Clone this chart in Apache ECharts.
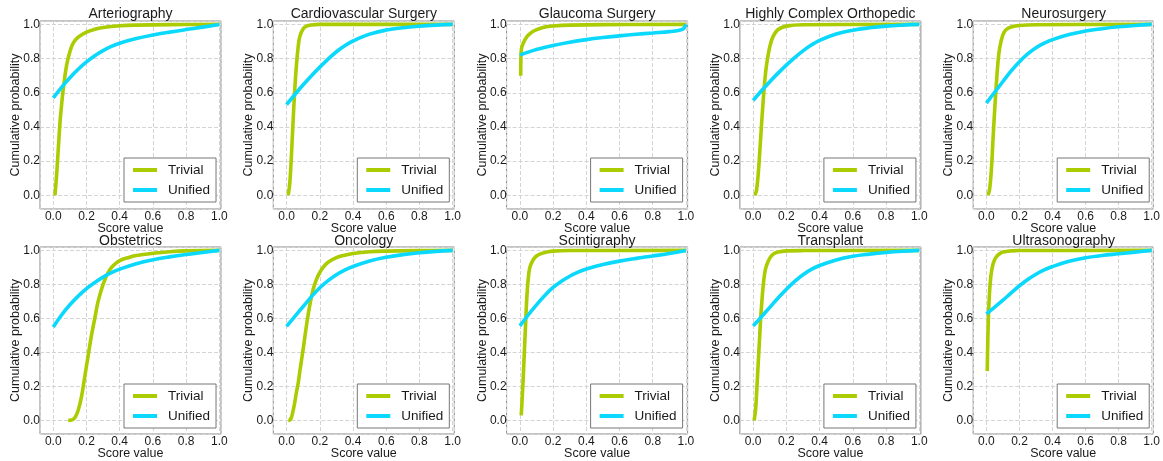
<!DOCTYPE html>
<html>
<head>
<meta charset="utf-8">
<script src="https://cdn.jsdelivr.net/npm/echarts@6/dist/echarts.min.js"></script>
<style>
  html, body { margin: 0; padding: 0; background: #fff; }
  #chart { width: 1163px; height: 461px; }
</style>
</head>
<body>
<div id="chart"></div>
<script>
// panel titles, left to right, top row then bottom row
const titles = ['Arteriography', 'Cardiovascular Surgery', 'Glaucoma Surgery', 'Highly Complex Orthopedic', 'Neurosurgery',
                'Obstetrics', 'Oncology', 'Scintigraphy', 'Transplant', 'Ultrasonography'];
const seriesNames = ['Trivial', 'Unified'];
const tickLabels = ['0.0', '0.2', '0.4', '0.6', '0.8', '1.0'];

// [score value, cumulative probability]
const arterioTrivial = [[0.01,0],[0.02,0.12],[0.03,0.27],[0.04,0.42],[0.05,0.53],[0.06,0.62],[0.08,0.76],[0.1,0.84],[0.12,0.89],[0.15,0.925],[0.2,0.955],[0.25,0.972],[0.3,0.982],[0.4,0.992],[0.5,0.996],[0.7,0.999],[1,1]];
const arterioUnified = [[0,0.57],[0.05,0.632],[0.1,0.688],[0.15,0.738],[0.2,0.781],[0.25,0.817],[0.3,0.847],[0.35,0.871],[0.4,0.89],[0.5,0.917],[0.6,0.938],[0.7,0.955],[0.8,0.97],[0.9,0.984],[1,1]];

const cardioTrivial = [[0.01,0],[0.02,0.08],[0.03,0.25],[0.04,0.45],[0.05,0.63],[0.06,0.77],[0.07,0.87],[0.08,0.93],[0.1,0.975],[0.12,0.99],[0.15,0.997],[0.2,1],[1,1]];
const cardioUnified = [[0,0.53],[0.05,0.59],[0.1,0.647],[0.15,0.7],[0.2,0.75],[0.25,0.797],[0.3,0.84],[0.35,0.875],[0.4,0.903],[0.5,0.943],[0.6,0.967],[0.7,0.981],[0.8,0.99],[0.9,0.996],[1,1]];

const glaucomaTrivial = [[0.005,0.7],[0.006,0.8],[0.01,0.86],[0.02,0.89],[0.04,0.925],[0.06,0.945],[0.08,0.96],[0.12,0.976],[0.16,0.986],[0.2,0.991],[0.3,0.996],[0.5,0.999],[1,1]];
const glaucomaUnified = [[0,0.82],[0.05,0.838],[0.1,0.853],[0.2,0.877],[0.3,0.896],[0.4,0.911],[0.5,0.923],[0.6,0.933],[0.7,0.942],[0.8,0.95],[0.9,0.958],[0.96,0.966],[0.985,0.975],[0.995,0.99],[1,1]];

const orthoTrivial = [[0.01,0],[0.02,0.03],[0.03,0.12],[0.04,0.26],[0.05,0.41],[0.06,0.55],[0.07,0.67],[0.08,0.76],[0.1,0.87],[0.12,0.93],[0.15,0.97],[0.2,0.99],[0.3,0.998],[1,1]];
const orthoUnified = [[0,0.555],[0.05,0.612],[0.1,0.665],[0.15,0.715],[0.2,0.762],[0.25,0.806],[0.3,0.845],[0.35,0.879],[0.4,0.907],[0.5,0.944],[0.6,0.966],[0.7,0.98],[0.8,0.99],[0.9,0.996],[1,1]];

const neuroTrivial = [[0.01,0],[0.02,0.04],[0.03,0.15],[0.04,0.33],[0.05,0.5],[0.06,0.65],[0.07,0.78],[0.08,0.86],[0.1,0.94],[0.12,0.97],[0.15,0.985],[0.2,0.994],[0.3,0.998],[1,1]];
const neuroUnified = [[0,0.54],[0.05,0.603],[0.1,0.666],[0.15,0.728],[0.2,0.782],[0.25,0.827],[0.3,0.863],[0.35,0.89],[0.4,0.911],[0.5,0.941],[0.6,0.961],[0.7,0.975],[0.8,0.986],[0.9,0.994],[1,1]];

const obstetTrivial = [[0.09,0],[0.11,0.002],[0.13,0.015],[0.15,0.06],[0.17,0.14],[0.19,0.26],[0.21,0.38],[0.23,0.5],[0.25,0.6],[0.27,0.7],[0.3,0.8],[0.33,0.87],[0.36,0.91],[0.4,0.94],[0.46,0.96],[0.5,0.97],[0.6,0.983],[0.7,0.992],[0.8,0.997],[1,1]];
const obstetUnified = [[0,0.55],[0.05,0.62],[0.1,0.68],[0.15,0.731],[0.2,0.775],[0.25,0.811],[0.3,0.843],[0.35,0.869],[0.4,0.89],[0.5,0.922],[0.6,0.945],[0.7,0.962],[0.8,0.976],[0.9,0.988],[1,1]];

const oncoTrivial = [[0.01,0],[0.02,0.002],[0.03,0.02],[0.04,0.06],[0.05,0.11],[0.06,0.17],[0.07,0.22],[0.08,0.29],[0.1,0.42],[0.12,0.56],[0.14,0.68],[0.16,0.77],[0.18,0.83],[0.2,0.87],[0.22,0.9],[0.25,0.93],[0.3,0.957],[0.35,0.972],[0.4,0.982],[0.5,0.992],[0.6,0.996],[0.8,0.999],[1,1]];
const oncoUnified = [[0,0.553],[0.05,0.612],[0.1,0.67],[0.15,0.728],[0.2,0.78],[0.25,0.822],[0.3,0.857],[0.35,0.884],[0.4,0.905],[0.5,0.938],[0.6,0.96],[0.7,0.975],[0.8,0.986],[0.9,0.994],[1,1]];

const scintiTrivial = [[0.008,0.03],[0.015,0.15],[0.02,0.25],[0.025,0.36],[0.03,0.47],[0.035,0.58],[0.04,0.69],[0.045,0.77],[0.05,0.83],[0.06,0.9],[0.08,0.945],[0.1,0.967],[0.13,0.982],[0.16,0.99],[0.2,0.996],[0.3,0.999],[1,1]];
const scintiUnified = [[0,0.556],[0.05,0.62],[0.1,0.68],[0.15,0.735],[0.2,0.782],[0.25,0.818],[0.3,0.848],[0.35,0.872],[0.4,0.891],[0.5,0.917],[0.6,0.937],[0.7,0.953],[0.8,0.967],[0.9,0.982],[1,1]];

const transTrivial = [[0.006,0],[0.015,0.07],[0.02,0.15],[0.025,0.24],[0.03,0.33],[0.035,0.42],[0.04,0.51],[0.045,0.6],[0.05,0.67],[0.06,0.79],[0.07,0.87],[0.08,0.91],[0.1,0.955],[0.12,0.977],[0.15,0.99],[0.2,0.997],[0.3,0.999],[1,1]];
const transUnified = [[0,0.556],[0.05,0.61],[0.1,0.665],[0.15,0.72],[0.2,0.772],[0.25,0.818],[0.3,0.857],[0.35,0.888],[0.4,0.911],[0.5,0.944],[0.6,0.965],[0.7,0.978],[0.8,0.988],[0.9,0.995],[1,1]];

const ultraTrivial = [[0.005,0.29],[0.008,0.45],[0.012,0.6],[0.016,0.7],[0.02,0.77],[0.025,0.83],[0.03,0.87],[0.04,0.92],[0.05,0.945],[0.06,0.962],[0.08,0.98],[0.1,0.99],[0.15,0.997],[0.2,0.999],[1,1]];
const ultraUnified = [[0,0.626],[0.05,0.666],[0.1,0.707],[0.15,0.75],[0.2,0.792],[0.25,0.829],[0.3,0.86],[0.35,0.885],[0.4,0.905],[0.5,0.936],[0.6,0.957],[0.7,0.97],[0.8,0.98],[0.9,0.99],[1,1]];

const trivialCurves = [arterioTrivial, cardioTrivial, glaucomaTrivial, orthoTrivial, neuroTrivial,
                       obstetTrivial, oncoTrivial, scintiTrivial, transTrivial, ultraTrivial];
const unifiedCurves = [arterioUnified, cardioUnified, glaucomaUnified, orthoUnified, neuroUnified,
                       obstetUnified, oncoUnified, scintiUnified, transUnified, ultraUnified];

const colors = ['#aacc00', '#0ad8fc'];
const font = 'Liberation Sans, Arial, sans-serif';
const textColor = '#1a1a1a';

const chart = echarts.init(document.getElementById('chart'));

let grids = [], xAxes = [], yAxes = [], series = [], titleList = [], legends = [];

function tickFmt(v) {
    let k = Math.round(v * 5);
    if (Math.abs(v * 5 - k) > 1e-6) return '';
    return tickLabels[k] || '';
}

for (let i = 0; i < titles.length; i++) {
    let col = i % 5, row = Math.floor(i / 5);
    let left = 40 + 233.3 * col;
    let top = row == 0 ? 21 : 247;
    let w = 181, h = 188;
    grids.push({
        left: left, top: top, width: w, height: h,
        show: true, borderColor: '#888', borderWidth: 1, containLabel: false
    });
    xAxes.push({
        type: 'value', gridIndex: i, min: -0.08, max: 1.01,
        minInterval: 0.2, maxInterval: 0.2,
        name: 'Score value', nameLocation: 'middle', nameGap: 13, nameMoveOverlap: false,
        nameTextStyle: { fontFamily: font, fontSize: 12.5, color: textColor },
        axisLine: { show: false, onZero: false }, axisTick: { show: false },
        axisLabel: { fontFamily: font, fontSize: 12, color: textColor, margin: 2, formatter: tickFmt },
        splitLine: { lineStyle: { color: '#d4d4d4', type: 'dashed', width: 1 } }
    });
    yAxes.push({
        type: 'value', gridIndex: i, min: -0.08, max: 1.02,
        minInterval: 0.2, maxInterval: 0.2,
        name: 'Cumulative probability', nameLocation: 'middle', nameGap: 18, nameRotate: 90, nameMoveOverlap: false,
        nameTextStyle: { fontFamily: font, fontSize: 12.5, color: textColor },
        axisLine: { show: false, onZero: false }, axisTick: { show: false },
        axisLabel: { fontFamily: font, fontSize: 12, color: textColor, margin: 0, formatter: tickFmt },
        splitLine: { lineStyle: { color: '#d4d4d4', type: 'dashed', width: 1 } }
    });
    [trivialCurves[i], unifiedCurves[i]].forEach((d, k) => {
        series.push({
            name: seriesNames[k], type: 'line', xAxisIndex: i, yAxisIndex: i,
            data: d, showSymbol: false, smooth: 0.4,
            lineStyle: { color: colors[k], width: 3.6 }, itemStyle: { color: colors[k] },
            animation: false
        });
    });
    titleList.push({
        text: titles[i], left: left + w / 2, top: row == 0 ? 7 : 234, textAlign: 'center', padding: 0,
        textStyle: { fontFamily: font, fontSize: 14, fontWeight: 'normal', color: textColor }
    });
    legends.push({
        data: seriesNames, orient: 'vertical', left: left + 84, top: top + 137,
        icon: 'rect', itemWidth: 24, itemHeight: 4, itemGap: 6,
        padding: [5, 6, 5, 9], selectedMode: false,
        backgroundColor: '#fff', borderColor: '#777', borderWidth: 1,
        textStyle: { fontFamily: font, fontSize: 13.5, color: textColor, padding: [0, 0, 0, 6] }
    });
}

chart.setOption({
    animation: false,
    title: titleList,
    legend: legends,
    grid: grids,
    xAxis: xAxes,
    yAxis: yAxes,
    series: series
});
</script>
</body>
</html>
